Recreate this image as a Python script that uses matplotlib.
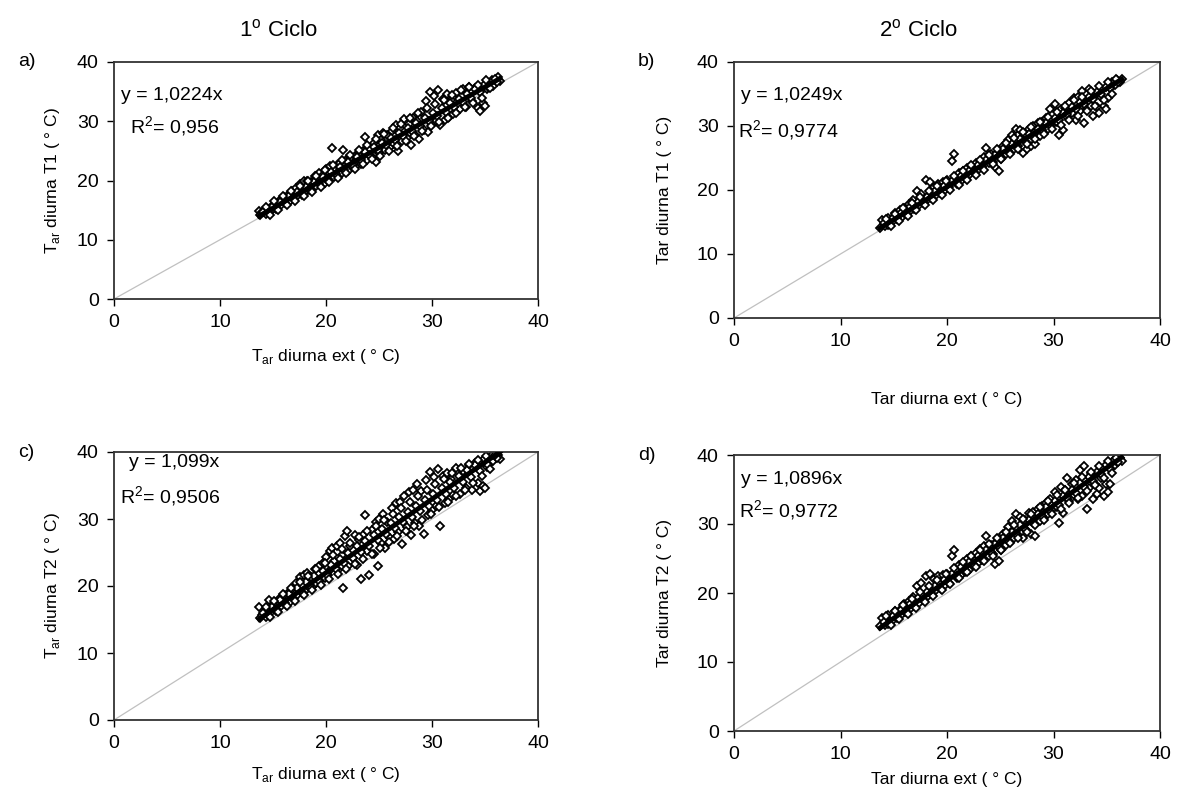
import matplotlib
matplotlib.use('Agg')
import matplotlib.pyplot as plt
import numpy as np

plt.rcParams['font.family'] = 'Liberation Sans'
plt.rcParams['mathtext.fontset'] = 'custom'
plt.rcParams['mathtext.rm'] = 'Liberation Sans'

# ---- data: 1o ciclo (ext vs T1, T2) ----
x1 = [13.7, 13.8, 14.0, 14.3, 14.6, 14.9, 15.1, 15.3, 15.6, 15.8, 16.0, 16.2, 16.4, 16.6, 16.8,
      17.0, 17.2, 17.3, 17.5, 17.7, 17.9, 18.0, 18.2, 18.4, 18.6, 18.8, 19.0, 19.1, 19.3, 19.5,
      19.7, 19.9, 20.0, 20.2, 20.4, 20.5, 20.6, 20.8, 21.0, 21.1, 21.3, 21.5, 21.6, 21.8, 22.0,
      22.1, 22.3, 22.5, 22.7, 22.9, 23.1, 23.3, 23.5, 23.7, 23.9, 24.1, 24.3, 24.5, 24.7, 24.9,
      25.0, 25.2, 25.4, 25.6, 25.8, 26.0, 26.2, 26.4, 26.6, 26.8, 27.0, 27.2, 27.4, 27.6, 27.8,
      28.0, 28.2, 28.4, 28.6, 28.8, 29.0, 29.2, 29.4, 29.6, 29.8, 30.0, 30.2, 30.4, 30.6, 30.8,
      31.0, 31.2, 31.4, 31.6, 31.8, 32.0, 32.3, 32.6, 32.9, 33.2, 33.5, 33.8, 34.1, 34.3, 34.5,
      34.8, 35.0, 35.2, 35.5, 35.8, 36.0, 36.2, 36.4,
      14.1, 14.5, 14.9, 15.3, 15.7, 16.1, 16.5, 16.9, 17.3, 17.7, 18.1, 18.5, 18.9, 19.3, 19.7,
      20.1, 20.5, 20.9, 21.3, 21.7, 22.1, 22.5, 22.9, 23.3, 23.7, 24.1, 24.5, 24.9, 25.3, 25.7,
      26.1, 26.5, 26.9, 27.3, 27.7, 28.1, 28.5, 28.9, 29.3, 29.7, 30.1, 30.5, 30.9, 31.3, 31.7,
      32.1, 32.5, 32.9, 33.3, 33.7, 34.1, 34.5, 34.9, 35.3, 35.7, 36.1,
      14.3, 14.7, 15.1, 15.5, 15.9, 16.3, 16.7, 17.1, 17.5, 17.9, 18.3, 18.7, 19.1, 19.5, 19.9,
      20.3, 20.7, 21.1, 21.5, 21.9, 22.3, 22.7, 23.1, 23.5, 23.9, 24.3, 24.7, 25.1, 25.5, 25.9,
      26.3, 26.7, 27.1, 27.5, 27.9, 28.3, 28.7, 29.1, 29.5, 29.9, 30.3, 30.7, 31.1, 31.5, 31.9,
      32.3, 32.7, 33.1, 33.5, 33.9, 34.3, 34.7, 35.1, 35.5, 35.9]
t1_c1 = [14.9, 14.1, 14.6, 14.4, 15.2, 15.0, 16.0, 15.2, 16.6, 15.8, 17.2, 16.2, 17.6, 16.6, 18.2,
         17.0, 18.8, 17.4, 19.4, 17.6, 19.9, 18.0, 20.0, 18.4, 19.8, 18.8, 20.8, 19.0, 21.2, 19.2,
         21.0, 19.6, 22.0, 20.0, 22.4, 20.4, 25.5, 20.6, 22.6, 20.8, 23.0, 21.2, 25.2, 22.0, 23.6,
         21.6, 23.8, 22.2, 24.2, 22.6, 24.6, 22.8, 25.0, 27.3, 23.4, 25.4, 24.0, 26.4, 23.2, 27.6,
         24.6, 26.8, 28.0, 25.2, 27.6, 25.6, 28.4, 26.2, 29.4, 25.0, 28.8, 26.6, 30.4, 27.2, 29.6,
         26.0, 30.6, 27.6, 30.0, 27.0, 31.6, 28.6, 33.4, 28.2, 35.0, 29.6, 34.2, 30.0, 35.2, 29.4,
         33.8, 30.2, 34.6, 30.8, 33.6, 31.2, 34.8, 32.0, 35.4, 32.4, 35.8, 33.4, 35.6, 32.2, 31.8,
         33.0, 32.6, 35.4, 36.4, 36.0, 37.0, 37.4, 36.8,
         14.6, 14.6, 15.5, 15.4, 16.4, 16.2, 17.3, 17.0, 18.1, 17.8, 18.9, 18.6, 19.8, 19.5, 20.6,
         20.3, 21.5, 21.1, 22.3, 21.8, 23.1, 22.7, 23.9, 23.4, 24.8, 24.3, 25.6, 25.1, 26.4, 26.0,
         27.2, 26.8, 28.0, 27.5, 28.9, 28.4, 29.7, 29.2, 30.6, 30.0, 31.4, 30.9, 32.2, 31.6, 33.0,
         32.4, 33.8, 33.2, 34.6, 34.0, 35.4, 34.9, 36.2, 35.7, 36.9, 36.6,
         15.6, 14.2, 16.6, 15.0, 17.3, 15.8, 18.3, 16.6, 19.0, 17.4, 19.9, 18.1, 20.8, 18.9, 21.7,
         19.7, 22.6, 20.4, 23.4, 21.2, 24.3, 22.0, 25.2, 22.8, 26.0, 23.6, 27.0, 24.2, 27.9, 25.0,
         28.8, 25.9, 29.6, 26.6, 30.5, 27.5, 31.4, 28.4, 32.2, 29.2, 32.9, 29.8, 33.6, 30.6, 34.4,
         31.4, 35.2, 32.4, 35.8, 33.0, 36.2, 34.0, 36.9, 35.6, 37.2]
t2_c1 = [16.8, 15.2, 15.6, 15.4, 17.9, 16.2, 17.2, 16.3, 18.0, 17.0, 18.6, 17.2, 19.0, 17.6, 19.6,
         18.2, 20.4, 18.6, 21.4, 19.0, 21.6, 19.2, 22.0, 19.8, 21.4, 20.0, 22.6, 20.4, 23.0, 21.0,
         23.5, 21.2, 24.4, 21.6, 25.2, 22.6, 25.6, 23.8, 26.0, 22.4, 26.4, 24.6, 19.7, 27.4, 28.2,
         23.0, 26.0, 24.2, 27.6, 23.2, 26.8, 21.0, 27.6, 30.6, 25.2, 21.6, 28.4, 24.8, 29.6, 23.0,
         30.0, 26.4, 30.8, 25.6, 29.6, 27.2, 31.6, 27.0, 32.4, 28.0, 32.6, 26.2, 33.4, 28.8, 34.0,
         27.6, 34.4, 29.4, 35.2, 29.0, 34.2, 27.8, 35.8, 30.6, 37.0, 31.4, 36.2, 32.0, 37.4, 29.0,
         36.4, 32.4, 36.8, 33.0, 36.0, 33.6, 37.6, 33.8, 37.2, 34.6, 38.0, 34.4, 38.4, 35.4, 34.2,
         35.0, 34.6, 37.8, 38.4, 38.6, 39.2, 39.6, 39.0,
         15.9, 15.6, 16.9, 16.5, 17.9, 17.4, 18.8, 18.2, 19.7, 19.1, 20.6, 20.0, 21.5, 20.8, 22.3,
         21.7, 23.2, 22.6, 24.1, 23.4, 25.0, 24.2, 25.9, 25.1, 26.7, 26.0, 27.6, 26.9, 28.5, 27.7,
         29.4, 28.6, 30.3, 29.5, 31.1, 30.3, 32.0, 31.2, 32.9, 32.0, 33.8, 32.9, 34.6, 33.8, 35.5,
         34.6, 36.4, 35.5, 37.3, 36.3, 38.1, 37.2, 38.9, 38.0, 39.6, 39.1,
         16.9, 15.4, 17.8, 16.1, 18.8, 17.0, 19.7, 17.8, 20.6, 18.6, 21.5, 19.4, 22.5, 20.2, 23.5,
         21.0, 24.6, 21.8, 25.5, 22.6, 26.4, 23.3, 27.3, 24.0, 28.2, 24.8, 29.0, 25.6, 29.8, 26.6,
         30.8, 27.4, 31.6, 28.2, 32.6, 29.0, 33.4, 29.8, 34.4, 30.8, 35.2, 31.8, 36.0, 32.6, 36.8,
         33.4, 37.6, 34.4, 38.2, 35.4, 38.8, 36.4, 39.4, 37.4, 39.6]

# ---- data: 2o ciclo (ext vs T1, T2) ----
x2 = [13.7, 13.9, 14.2, 14.5, 14.8, 15.1, 15.3, 15.6, 15.8, 16.0, 16.2, 16.4, 16.6, 16.8, 17.0,
      17.2, 17.4, 17.6, 17.8, 18.0, 18.2, 18.4, 18.6, 18.8, 19.0, 19.2, 19.4, 19.6, 19.8, 20.0,
      20.2, 20.5, 20.7, 20.9, 21.1, 21.3, 21.5, 21.7, 21.9, 22.1, 22.3, 22.5, 22.7, 22.9, 23.1,
      23.3, 23.5, 23.7, 23.9, 24.1, 24.3, 24.5, 24.7, 24.9, 25.1, 25.3, 25.5, 25.7, 25.9, 26.1,
      26.3, 26.5, 26.7, 26.9, 27.1, 27.3, 27.5, 27.7, 27.9, 28.1, 28.3, 28.5, 28.7, 28.9, 29.1,
      29.3, 29.5, 29.7, 29.9, 30.1, 30.3, 30.5, 30.7, 30.9, 31.1, 31.3, 31.5, 31.7, 31.9, 32.1,
      32.3, 32.5, 32.7, 32.9, 33.1, 33.3, 33.5, 33.7, 33.9, 34.1, 34.3, 34.5, 34.7, 34.9, 35.1,
      35.3, 35.5, 35.8, 36.0, 36.2, 36.4,
      14.1, 14.5, 14.9, 15.3, 15.7, 16.1, 16.5, 16.9, 17.3, 17.7, 18.1, 18.5, 18.9, 19.3, 19.7,
      20.1, 20.5, 20.9, 21.3, 21.7, 22.1, 22.5, 22.9, 23.3, 23.7, 24.1, 24.5, 24.9, 25.3, 25.7,
      26.1, 26.5, 26.9, 27.3, 27.7, 28.1, 28.5, 28.9, 29.3, 29.7, 30.1, 30.5, 30.9, 31.3, 31.7,
      32.1, 32.5, 32.9, 33.3, 33.7, 34.1, 34.5, 34.9, 35.3, 35.7, 36.1,
      14.3, 14.7, 15.1, 15.5, 15.9, 16.3, 16.7, 17.1, 17.5, 17.9, 18.3, 18.7, 19.1, 19.5, 19.9,
      20.3, 20.7, 21.1, 21.5, 21.9, 22.3, 22.7, 23.1, 23.5, 23.9, 24.3, 24.7, 25.1, 25.5, 25.9,
      26.3, 26.7, 27.1, 27.5, 27.9, 28.3, 28.7, 29.1, 29.5, 29.9, 30.3, 30.7, 31.1, 31.5, 31.9,
      32.3, 32.7, 33.1, 33.5, 33.9, 34.3, 34.7, 35.1, 35.5, 35.9]
t1_c2 = [14.0, 15.3, 14.4, 15.6, 15.0, 16.4, 15.4, 16.8, 15.8, 17.2, 16.2, 17.8, 16.8, 18.4, 17.2,
         19.8, 17.6, 19.4, 18.0, 21.6, 18.6, 21.2, 19.0, 20.4, 19.2, 21.0, 19.6, 21.2, 20.0, 21.6,
         20.4, 24.6, 25.6, 21.0, 22.6, 21.4, 23.0, 21.8, 23.4, 22.4, 23.8, 22.8, 24.2, 23.2, 24.6,
         23.6, 25.2, 26.6, 24.2, 25.6, 24.4, 23.6, 25.8, 23.0, 24.8, 26.8, 25.6, 27.8, 26.0, 28.6,
         26.4, 29.6, 26.8, 29.4, 25.8, 28.8, 26.4, 29.6, 26.8, 30.0, 27.2, 30.4, 28.4, 30.6, 29.0,
         31.2, 29.6, 32.6, 30.2, 33.4, 30.6, 28.6, 32.6, 29.4, 32.8, 31.4, 33.6, 32.0, 34.4, 31.0,
         34.6, 32.4, 35.4, 30.4, 32.8, 35.8, 33.2, 31.6, 35.0, 33.0, 32.0, 34.6, 33.2, 32.6, 34.4,
         36.0, 36.8, 36.4, 37.2, 36.8, 37.4,
         14.8, 14.6, 15.6, 15.5, 16.4, 16.3, 17.3, 17.1, 18.1, 17.9, 18.9, 18.7, 19.8, 19.5, 20.6,
         20.3, 21.4, 21.2, 22.2, 22.0, 23.0, 22.8, 23.9, 23.6, 24.7, 24.5, 25.5, 25.3, 26.4, 26.1,
         27.2, 26.9, 28.0, 27.7, 28.8, 28.5, 29.6, 29.4, 30.4, 30.2, 31.3, 31.0, 32.1, 31.8, 32.9,
         32.6, 33.7, 33.4, 34.5, 34.2, 35.3, 35.0, 36.1, 35.9, 36.9, 36.8,
         15.5, 14.4, 16.3, 15.1, 17.2, 16.0, 18.0, 16.8, 18.9, 17.6, 19.8, 18.4, 20.6, 19.2, 21.4,
         20.0, 22.2, 20.8, 23.0, 21.6, 23.9, 22.4, 24.7, 23.2, 25.5, 24.1, 26.4, 24.9, 27.3, 25.6,
         28.2, 26.4, 29.0, 27.2, 29.8, 28.0, 30.6, 28.8, 31.4, 29.6, 32.2, 30.2, 33.2, 30.9, 34.0,
         31.6, 34.6, 32.4, 35.4, 33.2, 36.2, 34.0, 36.8, 35.0, 37.3]
t2_c2 = [15.2, 16.4, 15.4, 16.8, 16.0, 17.4, 16.5, 17.6, 16.9, 18.4, 17.4, 18.8, 17.8, 19.4, 18.2,
         21.0, 18.6, 21.4, 19.2, 22.4, 19.6, 22.8, 20.0, 22.0, 20.4, 22.4, 20.6, 22.6, 21.2, 22.8,
         21.4, 25.4, 26.2, 22.2, 24.0, 22.6, 24.4, 23.0, 25.0, 23.4, 25.4, 24.0, 25.8, 24.4, 26.4,
         24.8, 26.8, 28.2, 25.4, 27.0, 25.6, 24.2, 27.6, 24.6, 26.2, 28.6, 27.0, 29.6, 27.4, 30.4,
         28.0, 31.4, 28.4, 31.0, 28.0, 30.6, 29.0, 31.6, 28.6, 31.8, 28.2, 32.2, 30.4, 32.6, 31.0,
         33.0, 31.4, 33.6, 32.0, 34.6, 32.4, 30.2, 35.4, 31.6, 35.0, 36.6, 33.4, 35.8, 34.2, 36.4,
         33.6, 37.8, 34.0, 38.4, 32.2, 35.2, 37.4, 33.6, 35.8, 34.4, 35.2, 36.6, 34.0, 35.8, 34.6,
         35.8, 38.2, 38.6, 39.0, 39.6, 39.2,
         15.8, 15.5, 16.7, 16.4, 17.6, 17.3, 18.4, 18.1, 19.3, 19.0, 20.2, 19.8, 21.0, 20.7, 21.9,
         21.6, 22.8, 22.4, 23.7, 23.3, 24.5, 24.1, 25.4, 25.0, 26.3, 25.9, 27.1, 26.7, 28.0, 27.6,
         28.9, 28.5, 29.8, 29.3, 30.6, 30.2, 31.5, 31.1, 32.4, 31.9, 33.3, 32.8, 34.1, 33.7, 35.0,
         34.5, 35.9, 35.4, 36.8, 36.3, 37.6, 37.2, 38.5, 38.0, 39.3, 39.0,
         16.6, 15.4, 17.4, 16.2, 18.3, 17.0, 19.2, 17.8, 20.1, 18.7, 21.0, 19.6, 21.9, 20.4, 22.7,
         21.3, 23.6, 22.2, 24.5, 23.0, 25.4, 23.8, 26.2, 24.6, 27.1, 25.4, 28.0, 26.2, 28.9, 27.2,
         29.8, 28.0, 30.7, 28.9, 31.5, 29.8, 32.4, 30.6, 33.3, 31.4, 34.2, 32.2, 35.0, 33.0, 35.9,
         33.8, 36.8, 34.8, 37.6, 35.6, 38.4, 36.6, 39.2, 37.4, 39.6]

# regression slopes (forced through origin) and labels from the chart
slopes = [1.0224, 1.0249, 1.099, 1.0896]
eq_txt = ['y = 1,0224x', 'y = 1,0249x', 'y = 1,099x', 'y = 1,0896x']
r2_txt = ['R$^2$= 0,956', 'R$^2$= 0,9774', 'R$^2$= 0,9506', 'R$^2$= 0,9772']
panel_ids = ['a)', 'b)', 'c)', 'd)']
ylabels = ['T$_{\\mathrm{ar}}$ diurna T1 ( ° C)', 'Tar diurna T1 ( ° C)',
           'T$_{\\mathrm{ar}}$ diurna T2 ( ° C)', 'Tar diurna T2 ( ° C)']
xlabels = ['T$_{\\mathrm{ar}}$ diurna ext ( ° C)', 'Tar diurna ext ( ° C)',
           'T$_{\\mathrm{ar}}$ diurna ext ( ° C)', 'Tar diurna ext ( ° C)']

W, H = 1185, 799
fig = plt.figure(figsize=(W / 100, H / 100), dpi=100)

# axes boxes in pixels: left, top, right, bottom
boxes = [(114, 62, 538, 299), (734, 62, 1160, 318),
         (114, 452, 538, 720), (734, 455, 1160, 731)]
xlab_pad = [11, 30, 9, 6]
ylab_pad = [11, 18, 11, 18]
# text positions (data coords) for equation and R2
eq_pos = [(0.7, 34.4), (0.7, 34.8), (1.4, 38.4), (0.7, 36.5)]
r2_pos = [(1.5, 29.0), (0.4, 29.2), (0.6, 33.4), (0.5, 31.9)]

series = [(x1, t1_c1), (x2, t1_c2), (x1, t2_c1), (x2, t2_c2)]

for i in range(4):
    l, t, r, b = boxes[i]
    ax = fig.add_axes([l / W, 1 - b / H, (r - l) / W, (b - t) / H])
    xs, ys = series[i]
    xs = np.array(xs)
    ax.plot([0, 40], [0, 40], color='#c0c0c0', lw=0.9, zorder=1)
    ax.plot(xs, ys, 'D', ms=4.4, mfc='white', mec='black', mew=1.3, zorder=2)
    xl = np.array([xs.min(), xs.max()])
    ax.plot(xl, slopes[i] * xl, color='black', lw=3.5, zorder=3)
    ax.set_xlim(0, 40)
    ax.set_ylim(0, 40)
    ax.set_xticks([0, 10, 20, 30, 40])
    ax.set_yticks([0, 10, 20, 30, 40])
    ax.tick_params(direction='out', length=5, width=1, labelsize=14, pad=6)
    for s in ax.spines.values():
        s.set_color('#333333')
        s.set_linewidth(1.3)
    ax.text(eq_pos[i][0], eq_pos[i][1], eq_txt[i], fontsize=14, va='center', ha='left')
    ax.text(r2_pos[i][0], r2_pos[i][1], r2_txt[i], fontsize=14, va='center', ha='left')
    ax.set_ylabel(ylabels[i], fontsize=12.5, labelpad=ylab_pad[i])
    ax.set_xlabel(xlabels[i], fontsize=12.5, labelpad=xlab_pad[i])
    fig.text((l - 96) / W, 1 - t / H, panel_ids[i], fontsize=14, va='center', ha='left')

fig.text(278 / W, 1 - 30 / H, '1$^{\\mathrm{o}}$ Ciclo', fontsize=16, ha='center', va='center')
fig.text(918 / W, 1 - 30 / H, '2$^{\\mathrm{o}}$ Ciclo', fontsize=16, ha='center', va='center')

fig.savefig('out.png', dpi=100)
